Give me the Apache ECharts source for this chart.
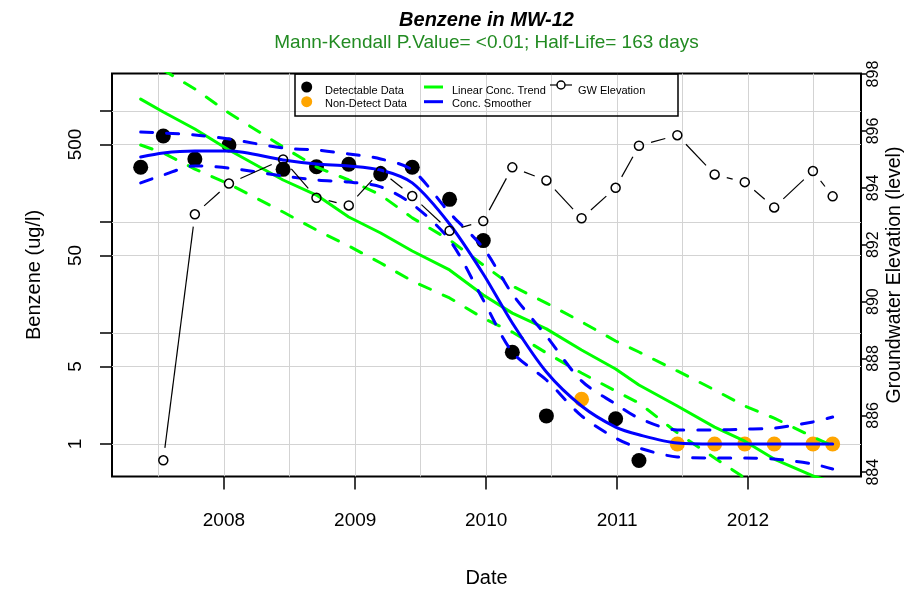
<!DOCTYPE html>
<html><head><meta charset="utf-8">
<script src="https://cdn.jsdelivr.net/npm/echarts@6/dist/echarts.min.js"></script>
<style>html,body{margin:0;padding:0;background:#fff}#c{width:921px;height:595px}</style>
</head><body><div id="c"></div>
<script>
const FONT = '"Liberation Sans", Arial, Helvetica, sans-serif';

// ---- data ----
const sampleDates = ['2007-05-14','2007-07-16','2007-10-12','2008-01-15','2008-06-14','2008-09-15','2008-12-14','2009-03-13','2009-06-09','2009-09-21','2009-12-24','2010-03-15','2010-06-18','2010-09-24','2010-12-28','2011-03-03','2011-06-18','2011-09-30','2011-12-23','2012-03-14','2012-06-30','2012-08-24'];
const detectDates = ['2007-05-14','2007-07-16','2007-10-12','2008-01-15','2008-06-14','2008-09-15','2008-12-14','2009-03-13','2009-06-09','2009-09-21','2009-12-24','2010-03-15','2010-06-18','2010-12-28','2011-03-03'];
const detectValues = [311, 595, 370, 494, 298, 315, 331, 271, 311, 160, 68, 6.7, 1.79, 1.69, 0.71];
const nonDetectDates = ['2010-09-24','2011-06-18','2011-09-30','2011-12-23','2012-03-14','2012-06-30','2012-08-24'];
const nonDetectValues = [2.53, 1, 1, 1, 1, 1, 1];
const gwDates = ['2007-07-16','2007-10-12','2008-01-15','2008-06-14','2008-09-15','2008-12-14','2009-03-13','2009-06-09','2009-09-21','2009-12-24','2010-03-15','2010-06-18','2010-09-24','2010-12-28','2011-03-03','2011-06-18','2011-09-30','2011-12-23','2012-03-14','2012-06-30','2012-08-24'];
const gwValues = [884.42, 893.07, 894.15, 895.00, 893.65, 893.38, 894.59, 893.71, 892.49, 892.83, 894.72, 894.26, 892.93, 894.00, 895.48, 895.85, 894.47, 894.20, 893.31, 894.59, 893.70];
const trendValues = [1280, 980, 689, 445, 239, 175, 111, 79.6, 54.8, 37.0, 22.0, 15.1, 10.9, 7.03, 4.74, 3.40, 2.20, 1.42, 1.06, 0.732, 0.515, 0.455];
const trendUpper = [3200, 2340, 1578, 959, 474, 313, 239, 175, 109, 68.9, 41.0, 26.5, 18.6, 12.6, 8.47, 6.74, 4.55, 3.07, 2.20, 1.71, 1.16, 0.96];
const trendLower = [494, 419, 300, 220, 123, 84.7, 60.8, 42.7, 29.4, 20.7, 13.6, 10.2, 6.61, 4.36, 3.00, 2.34, 1.26, 0.748, 0.494, 0.347, 0.229, 0.186];
const smoothValues = [385, 419, 436, 436, 362, 333, 320, 294, 225, 95.9, 34.0, 12.3, 4.45, 2.20, 1.42, 1.21, 1.02, 1.0, 1.0, 1.0, 1.0, 1.0];
const smoothUpper = [647, 634, 608, 559, 464, 445, 410, 370, 294, 121, 58.3, 22.5, 9.40, 3.70, 2.29, 1.71, 1.34, 1.34, 1.36, 1.39, 1.58, 1.75];
const smoothLower = [225, 265, 320, 306, 260, 239, 229, 207, 145, 68.9, 19.8, 6.74, 3.77, 1.79, 1.13, 0.92, 0.764, 0.748, 0.748, 0.732, 0.660, 0.595];

// ---- axes ----
const yTickValues = [1, 5, 10, 50, 100, 500, 1000];
const yLabelValues = [1, 5, 50, 500];
const gwTickValues = [884, 886, 888, 890, 892, 894, 896, 898];
const yearTicks = ['2008-01-01','2009-01-01','2010-01-01','2011-01-01','2012-01-01'];
const gridDates = ['2007-07-01','2008-01-01','2008-07-01','2009-01-01','2009-07-01','2010-01-01','2010-07-01','2011-01-01','2011-07-01','2012-01-01','2012-07-01'];
const X_MIN = '2007-02-23', X_MAX = '2012-11-11';
const Y_MIN = 0.5095, Y_MAX = 2177;
const GW_MIN = 883.85, GW_MAX = 898.02;

const T = s => echarts.time.parse(s).getTime();
const pairs = (ds, vs) => ds.map((d, i) => [T(d), vs[i]]);
const gwSegments = gwDates.slice(0, -1).map((d, i) => [T(d), gwValues[i], T(gwDates[i + 1]), gwValues[i + 1]]);

const chart = echarts.init(document.getElementById('c'), null, {renderer: 'canvas'});

const lineSeries = (vals, color, dashed, z, smooth) => ({
  type: 'line', xAxisIndex: 0, yAxisIndex: 0, data: pairs(sampleDates, vals),
  symbol: 'none', smooth: smooth || false, z: z, silent: true, clip: true,
  lineStyle: {color: color, width: 3, opacity: 1, type: dashed ? [12, 14] : 'solid', cap: 'round', join: 'round'}
});

chart.setOption({
  animation: false,
  backgroundColor: '#fff',
  textStyle: {fontFamily: FONT},
  grid: {left: 112, top: 73.5, width: 749, height: 403, show: true, borderColor: '#000', borderWidth: 2, backgroundColor: 'transparent'},
  xAxis: [
    {type: 'value', min: T(X_MIN), max: T(X_MAX), position: 'bottom',
     axisLine: {show: false, onZero: false}, axisTick: {show: false, customValues: gridDates.map(T)},
     axisLabel: {show: false}, splitLine: {show: true, lineStyle: {color: '#d3d3d3', width: 1}}},
    {type: 'value', min: T(X_MIN), max: T(X_MAX), position: 'bottom',
     axisLine: {show: false, onZero: false},
     axisTick: {show: true, customValues: yearTicks.map(T), length: 13, lineStyle: {color: '#000', width: 1.5}},
     axisLabel: {show: true, customValues: yearTicks.map(T), margin: 35, fontSize: 19, color: '#000', fontFamily: FONT,
                 formatter: v => String(new Date(v).getFullYear())},
     splitLine: {show: false},
     name: 'Date', nameLocation: 'middle', nameGap: 92, nameMoveOverlap: false,
     nameTextStyle: {fontSize: 20, color: '#000', fontFamily: FONT}}
  ],
  yAxis: [
    {type: 'log', logBase: 10, min: Y_MIN, max: Y_MAX, position: 'left', show: false, axisLine: {onZero: false}},
    {type: 'value', min: GW_MIN, max: GW_MAX, position: 'right',
     axisLine: {show: false, onZero: false},
     axisTick: {show: true, customValues: gwTickValues, length: 5, lineStyle: {color: '#000', width: 1.5}},
     axisLabel: {show: true, customValues: gwTickValues, rotate: 90, margin: 5, fontSize: 16, color: '#000', fontFamily: FONT},
     splitLine: {show: false},
     name: 'Groundwater Elevation (level)', nameLocation: 'middle', nameRotate: 90, nameGap: 24, nameMoveOverlap: false,
     nameTextStyle: {fontSize: 19.5, color: '#000', fontFamily: FONT}},
    {type: 'value', min: Math.log10(Y_MIN), max: Math.log10(Y_MAX), position: 'left',
     axisLine: {show: false, onZero: false},
     axisTick: {show: true, customValues: yTickValues.map(Math.log10), length: 12, lineStyle: {color: '#000', width: 1.5}},
     axisLabel: {show: true, customValues: yLabelValues.map(Math.log10), rotate: 90, margin: 27, fontSize: 19, color: '#000', fontFamily: FONT,
                 formatter: v => String(Math.round(Math.pow(10, v)))},
     splitLine: {show: true, lineStyle: {color: '#d3d3d3', width: 1}},
     name: 'Benzene (ug/l)', nameLocation: 'middle', nameRotate: 90, nameGap: 68, nameMoveOverlap: false,
     nameTextStyle: {fontSize: 20, color: '#000', fontFamily: FONT}}
  ],
  series: [
    {type: 'scatter', name: 'Detectable Data', xAxisIndex: 0, yAxisIndex: 0, data: pairs(detectDates, detectValues),
     symbol: 'circle', symbolSize: 15, itemStyle: {color: '#000', opacity: 1}, z: 2, silent: true},
    {type: 'scatter', name: 'Non-Detect Data', xAxisIndex: 0, yAxisIndex: 0, data: pairs(nonDetectDates, nonDetectValues),
     symbol: 'circle', symbolSize: 15, itemStyle: {color: '#FFA500', opacity: 1}, z: 2, silent: true},
    lineSeries(trendValues, '#00FF00', false, 3),
    lineSeries(trendUpper, '#00FF00', true, 3),
    lineSeries(trendLower, '#00FF00', true, 3),
    lineSeries(smoothValues, '#0000FF', false, 4, 0.3),
    lineSeries(smoothUpper, '#0000FF', true, 4, 0.3),
    lineSeries(smoothLower, '#0000FF', true, 4, 0.3),
    {type: 'custom', name: 'GW Elevation line', xAxisIndex: 0, yAxisIndex: 1, data: gwSegments, clip: true, z: 5, silent: true,
     dimensions: ['x1', 'y1', 'x2', 'y2'], encode: {x: [0, 2], y: [1, 3]},
     renderItem: function (params, api) {
       const p1 = api.coord([api.value(0), api.value(1)]);
       const p2 = api.coord([api.value(2), api.value(3)]);
       const dx = p2[0] - p1[0], dy = p2[1] - p1[1];
       const len = Math.hypot(dx, dy);
       const gap = 12.5;
       if (len <= 2 * gap) return null;
       const ux = dx / len, uy = dy / len;
       return {type: 'line', shape: {x1: p1[0] + ux * gap, y1: p1[1] + uy * gap, x2: p2[0] - ux * gap, y2: p2[1] - uy * gap},
               style: {stroke: '#000', lineWidth: 1.2}};
     }},
    {type: 'scatter', name: 'GW Elevation', xAxisIndex: 0, yAxisIndex: 1, data: pairs(gwDates, gwValues),
     symbol: 'circle', symbolSize: 9, itemStyle: {color: 'rgba(0,0,0,0)', borderColor: '#000', borderWidth: 1.5, opacity: 1}, z: 6, silent: true}
  ],
  graphic: [
    {type: 'text', x: 486.5, y: 20, z: 10, style: {text: 'Benzene in MW-12', fontSize: 20, fontWeight: 'bold', fontStyle: 'italic', fontFamily: FONT, fill: '#000', align: 'center', verticalAlign: 'middle'}},
    {type: 'text', x: 486.5, y: 43, z: 10, style: {text: 'Mann-Kendall P.Value= <0.01; Half-Life= 163 days', fontSize: 19, fontFamily: FONT, fill: '#228B22', align: 'center', verticalAlign: 'middle'}},
    {type: 'rect', z: 10, shape: {x: 295, y: 74, width: 383, height: 42}, style: {fill: 'none', stroke: '#000', lineWidth: 1.5}},
    {type: 'circle', z: 10, shape: {cx: 306.7, cy: 87, r: 5.5}, style: {fill: '#000'}},
    {type: 'circle', z: 10, shape: {cx: 306.7, cy: 101.7, r: 5.5}, style: {fill: '#FFA500'}},
    {type: 'text', x: 325, y: 90.5, z: 10, style: {text: 'Detectable Data', fontSize: 11, fontFamily: FONT, fill: '#000', align: 'left', verticalAlign: 'middle'}},
    {type: 'text', x: 325, y: 104, z: 10, style: {text: 'Non-Detect Data', fontSize: 11, fontFamily: FONT, fill: '#000', align: 'left', verticalAlign: 'middle'}},
    {type: 'line', z: 10, shape: {x1: 424, y1: 87, x2: 443, y2: 87}, style: {stroke: '#00FF00', lineWidth: 3}},
    {type: 'line', z: 10, shape: {x1: 424, y1: 101.7, x2: 443, y2: 101.7}, style: {stroke: '#0000FF', lineWidth: 3}},
    {type: 'text', x: 452, y: 90.5, z: 10, style: {text: 'Linear Conc. Trend', fontSize: 11, fontFamily: FONT, fill: '#000', align: 'left', verticalAlign: 'middle'}},
    {type: 'text', x: 452, y: 104, z: 10, style: {text: 'Conc. Smoother', fontSize: 11, fontFamily: FONT, fill: '#000', align: 'left', verticalAlign: 'middle'}},
    {type: 'line', z: 10, shape: {x1: 550, y1: 85, x2: 572, y2: 85}, style: {stroke: '#000', lineWidth: 1.2}},
    {type: 'circle', z: 11, shape: {cx: 561, cy: 85, r: 4}, style: {fill: '#fff', stroke: '#000', lineWidth: 1.5}},
    {type: 'text', x: 578, y: 90.5, z: 10, style: {text: 'GW Elevation', fontSize: 11, fontFamily: FONT, fill: '#000', align: 'left', verticalAlign: 'middle'}}
  ]
});
</script>
</body></html>
